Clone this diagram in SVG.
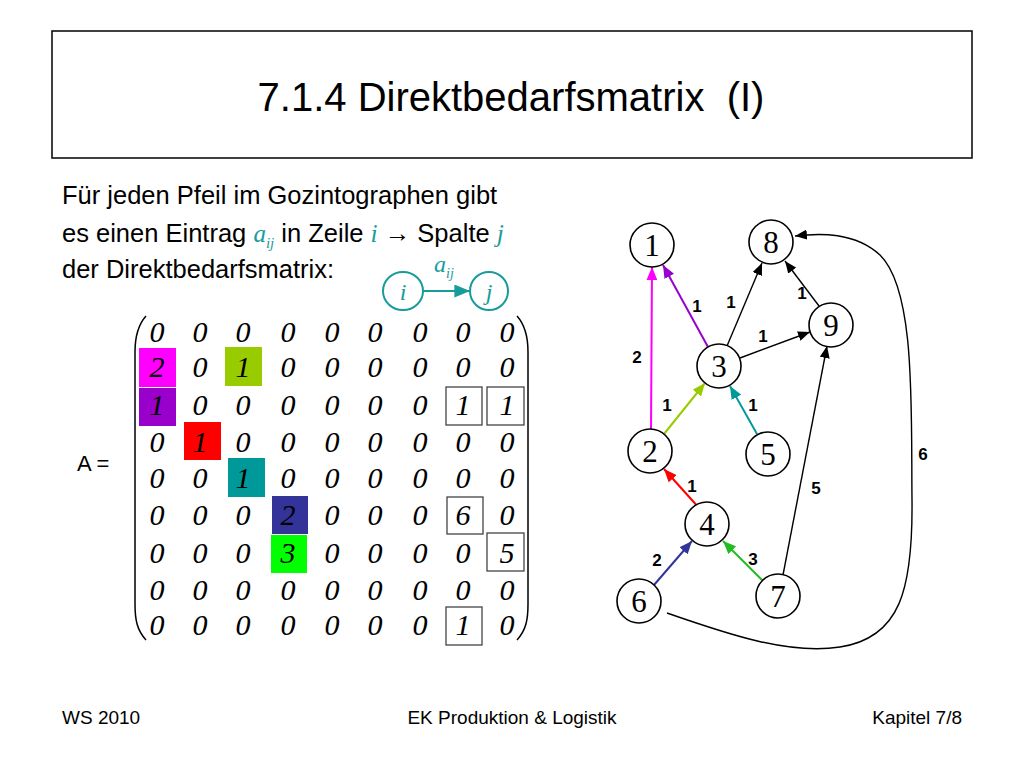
<svg xmlns="http://www.w3.org/2000/svg" width="1024" height="768" viewBox="0 0 1024 768">
<defs>
<style>
.sans{font-family:"Liberation Sans",Arial,sans-serif;fill:#000}
.m{font-family:"Liberation Serif","Times New Roman",serif;font-style:italic;font-size:30px;text-anchor:middle;fill:#000}
.nd{fill:#fff;stroke:#000;stroke-width:1.6}
.nl{font-family:"Liberation Serif","Times New Roman",serif;font-size:31px;text-anchor:middle;fill:#000}
.el{font-family:"Liberation Sans",Arial,sans-serif;font-weight:bold;font-size:17px;text-anchor:middle;fill:#000}
.ti{font-family:"Liberation Serif","Times New Roman",serif;font-style:italic;fill:#179b9b}
.box{fill:none;stroke:#444;stroke-width:1.3}
</style>
<marker id="ak" viewBox="0 0 12 10" refX="12" refY="5" markerWidth="12" markerHeight="10" markerUnits="userSpaceOnUse" orient="auto"><path d="M0,0 L12,5 L0,10 z" fill="#000"/></marker>
<marker id="amag" viewBox="0 0 12 10" refX="12" refY="5" markerWidth="13" markerHeight="11" markerUnits="userSpaceOnUse" orient="auto"><path d="M0,0 L12,5 L0,10 z" fill="#ff00ff"/></marker>
<marker id="apur" viewBox="0 0 12 10" refX="12" refY="5" markerWidth="13" markerHeight="11" markerUnits="userSpaceOnUse" orient="auto"><path d="M0,0 L12,5 L0,10 z" fill="#9900cc"/></marker>
<marker id="ayg" viewBox="0 0 12 10" refX="12" refY="5" markerWidth="13" markerHeight="11" markerUnits="userSpaceOnUse" orient="auto"><path d="M0,0 L12,5 L0,10 z" fill="#99cc00"/></marker>
<marker id="atl" viewBox="0 0 12 10" refX="12" refY="5" markerWidth="13" markerHeight="11" markerUnits="userSpaceOnUse" orient="auto"><path d="M0,0 L12,5 L0,10 z" fill="#009999"/></marker>
<marker id="ared" viewBox="0 0 12 10" refX="12" refY="5" markerWidth="13" markerHeight="11" markerUnits="userSpaceOnUse" orient="auto"><path d="M0,0 L12,5 L0,10 z" fill="#ff0000"/></marker>
<marker id="anv" viewBox="0 0 12 10" refX="12" refY="5" markerWidth="13" markerHeight="11" markerUnits="userSpaceOnUse" orient="auto"><path d="M0,0 L12,5 L0,10 z" fill="#333399"/></marker>
<marker id="agr" viewBox="0 0 12 10" refX="12" refY="5" markerWidth="13" markerHeight="11" markerUnits="userSpaceOnUse" orient="auto"><path d="M0,0 L12,5 L0,10 z" fill="#22bb22"/></marker>
<marker id="aleg" viewBox="0 0 12 10" refX="12" refY="5" markerWidth="16" markerHeight="13" markerUnits="userSpaceOnUse" orient="auto"><path d="M0,0 L12,5 L0,10 z" fill="#179b9b"/></marker>
</defs>
<rect width="1024" height="768" fill="#fff"/>

<g id="title">
<rect x="52" y="31" width="920" height="127" fill="#fff" stroke="#000" stroke-width="1.5"/>
<text class="sans" x="511" y="111" font-size="40" text-anchor="middle" xml:space="preserve">7.1.4 Direktbedarfsmatrix  (I)</text>
</g>

<g id="intro" class="sans" font-size="25.5">
<text x="62" y="204">Für jeden Pfeil im Gozintographen gibt</text>
<text x="62" y="242">es einen Eintrag <tspan class="ti" font-size="25">a</tspan><tspan class="ti" font-size="15" dy="6">ij</tspan><tspan dy="-6"> in Zeile </tspan><tspan class="ti">i</tspan> <tspan font-family="'Liberation Serif',serif">→</tspan> Spalte <tspan class="ti">j</tspan></text>
<text x="62" y="278">der Direktbedarfsmatrix:</text>
</g>

<g id="legend">
<ellipse cx="403" cy="291" rx="20" ry="19" fill="none" stroke="#179b9b" stroke-width="2"/>
<ellipse cx="489" cy="291" rx="19" ry="19" fill="none" stroke="#179b9b" stroke-width="2"/>
<line x1="423" y1="291" x2="470" y2="291" stroke="#179b9b" stroke-width="2" marker-end="url(#aleg)"/>
<text class="ti" x="403" y="300" font-size="24" text-anchor="middle">i</text>
<text class="ti" x="489" y="300" font-size="24" text-anchor="middle">j</text>
<text class="ti" x="434" y="272" font-size="24">a<tspan font-size="14" dy="6">ij</tspan></text>
</g>

<text class="sans" x="77" y="471" font-size="22">A =</text>

<g id="matrix">
<rect x="139" y="348" width="37" height="39" fill="#ff00ff"/>
<rect x="225" y="347" width="37" height="39" fill="#99cc00"/>
<rect x="139" y="388" width="37" height="38" fill="#9900cc"/>
<rect x="184" y="422" width="37" height="38" fill="#ff0000"/>
<rect x="228" y="458" width="37" height="39" fill="#009999"/>
<rect x="272" y="496" width="36" height="38" fill="#333399"/>
<rect x="271" y="535" width="36" height="38" fill="#00ff00"/>
<rect class="box" x="446" y="387" width="36" height="38"/>
<rect class="box" x="487" y="387" width="37" height="38"/>
<rect class="box" x="447" y="497" width="36" height="37"/>
<rect class="box" x="487" y="533" width="37" height="38"/>
<rect class="box" x="446" y="607" width="36" height="38"/>
<path d="M146,316 C137,326 135,338 135,352 L135,604 C135,620 137,630 146,640" fill="none" stroke="#000" stroke-width="1.5"/>
<path d="M517,316 C526,326 528,338 528,352 L528,604 C528,620 526,630 517,640" fill="none" stroke="#000" stroke-width="1.5"/>
<g class="m">
<text x="157" y="342">0</text><text x="200" y="342">0</text><text x="243" y="342">0</text><text x="288" y="342">0</text><text x="332" y="342">0</text><text x="375" y="342">0</text><text x="420" y="342">0</text><text x="463" y="342">0</text><text x="507" y="342">0</text>
<text x="157" y="377">2</text><text x="200" y="377">0</text><text x="243" y="377">1</text><text x="288" y="377">0</text><text x="332" y="377">0</text><text x="375" y="377">0</text><text x="420" y="377">0</text><text x="463" y="377">0</text><text x="507" y="377">0</text>
<text x="157" y="415">1</text><text x="200" y="415">0</text><text x="243" y="415">0</text><text x="288" y="415">0</text><text x="332" y="415">0</text><text x="375" y="415">0</text><text x="420" y="415">0</text><text x="463" y="415">1</text><text x="507" y="415">1</text>
<text x="157" y="452">0</text><text x="200" y="452">1</text><text x="243" y="452">0</text><text x="288" y="452">0</text><text x="332" y="452">0</text><text x="375" y="452">0</text><text x="420" y="452">0</text><text x="463" y="452">0</text><text x="507" y="452">0</text>
<text x="157" y="488">0</text><text x="200" y="488">0</text><text x="243" y="488">1</text><text x="288" y="488">0</text><text x="332" y="488">0</text><text x="375" y="488">0</text><text x="420" y="488">0</text><text x="463" y="488">0</text><text x="507" y="488">0</text>
<text x="157" y="525">0</text><text x="200" y="525">0</text><text x="243" y="525">0</text><text x="288" y="525">2</text><text x="332" y="525">0</text><text x="375" y="525">0</text><text x="420" y="525">0</text><text x="463" y="525">6</text><text x="507" y="525">0</text>
<text x="157" y="563">0</text><text x="200" y="563">0</text><text x="243" y="563">0</text><text x="288" y="563">3</text><text x="332" y="563">0</text><text x="375" y="563">0</text><text x="420" y="563">0</text><text x="463" y="563">0</text><text x="507" y="563">5</text>
<text x="157" y="600">0</text><text x="200" y="600">0</text><text x="243" y="600">0</text><text x="288" y="600">0</text><text x="332" y="600">0</text><text x="375" y="600">0</text><text x="420" y="600">0</text><text x="463" y="600">0</text><text x="507" y="600">0</text>
<text x="157" y="635">0</text><text x="200" y="635">0</text><text x="243" y="635">0</text><text x="288" y="635">0</text><text x="332" y="635">0</text><text x="375" y="635">0</text><text x="420" y="635">0</text><text x="463" y="635">1</text><text x="507" y="635">0</text>
</g>
</g>

<g id="connectors" fill="none">
<line x1="651" y1="429" x2="652" y2="267" stroke="#ff00ff" stroke-width="2" marker-end="url(#amag)"/>
<line x1="708" y1="347" x2="663" y2="265" stroke="#9900cc" stroke-width="2" marker-end="url(#apur)"/>
<line x1="727" y1="346" x2="762" y2="263" stroke="#000" stroke-width="1.4" marker-end="url(#ak)"/>
<line x1="740" y1="358" x2="810" y2="332" stroke="#000" stroke-width="1.4" marker-end="url(#ak)"/>
<line x1="819" y1="306" x2="785" y2="261" stroke="#000" stroke-width="1.4" marker-end="url(#ak)"/>
<line x1="664" y1="434" x2="705" y2="383" stroke="#99cc00" stroke-width="2" marker-end="url(#ayg)"/>
<line x1="757" y1="434" x2="730" y2="386" stroke="#009999" stroke-width="2" marker-end="url(#atl)"/>
<line x1="700" y1="509" x2="664" y2="469" stroke="#ff0000" stroke-width="2" marker-end="url(#ared)"/>
<line x1="654" y1="585" x2="692" y2="541" stroke="#333399" stroke-width="2" marker-end="url(#anv)"/>
<line x1="763" y1="581" x2="723" y2="541" stroke="#22bb22" stroke-width="2" marker-end="url(#agr)"/>
<line x1="783" y1="575" x2="827" y2="346" stroke="#000" stroke-width="1.4" marker-end="url(#ak)"/>
<path d="M667,613 C730,635 790,655 840,647 C900,638 913,590 912,500 C911,410 916,290 880,255 C855,232 820,233 795,236" stroke="#000" stroke-width="1.4" marker-end="url(#ak)"/>
<text class="el" x="637" y="363">2</text>
<text class="el" x="697" y="312">1</text>
<text class="el" x="731" y="308">1</text>
<text class="el" x="763" y="342">1</text>
<text class="el" x="802" y="299">1</text>
<text class="el" x="667" y="411">1</text>
<text class="el" x="753" y="411">1</text>
<text class="el" x="692" y="492">1</text>
<text class="el" x="657" y="566">2</text>
<text class="el" x="753" y="565">3</text>
<text class="el" x="816" y="494">5</text>
<text class="el" x="923" y="460">6</text>
</g>

<g id="n1"><circle class="nd" cx="652" cy="245" r="22"/><text class="nl" x="652" y="256">1</text></g>
<g id="n8"><circle class="nd" cx="771" cy="242" r="22"/><text class="nl" x="771" y="253">8</text></g>
<g id="n9"><circle class="nd" cx="831" cy="325" r="22"/><text class="nl" x="831" y="336">9</text></g>
<g id="n3"><circle class="nd" cx="719" cy="366" r="22"/><text class="nl" x="719" y="377">3</text></g>
<g id="n2"><circle class="nd" cx="650" cy="451" r="22"/><text class="nl" x="650" y="462">2</text></g>
<g id="n5"><circle class="nd" cx="768" cy="454" r="22"/><text class="nl" x="768" y="465">5</text></g>
<g id="n4"><circle class="nd" cx="707" cy="524" r="22"/><text class="nl" x="707" y="535">4</text></g>
<g id="n6"><circle class="nd" cx="639" cy="601" r="22"/><text class="nl" x="639" y="612">6</text></g>
<g id="n7"><circle class="nd" cx="778" cy="596" r="22"/><text class="nl" x="778" y="607">7</text></g>

<g id="footer" class="sans" font-size="19">
<text x="62" y="724">WS 2010</text>
<text x="512" y="724" text-anchor="middle">EK Produktion &amp; Logistik</text>
<text x="962" y="724" text-anchor="end">Kapitel 7/8</text>
</g>
</svg>
